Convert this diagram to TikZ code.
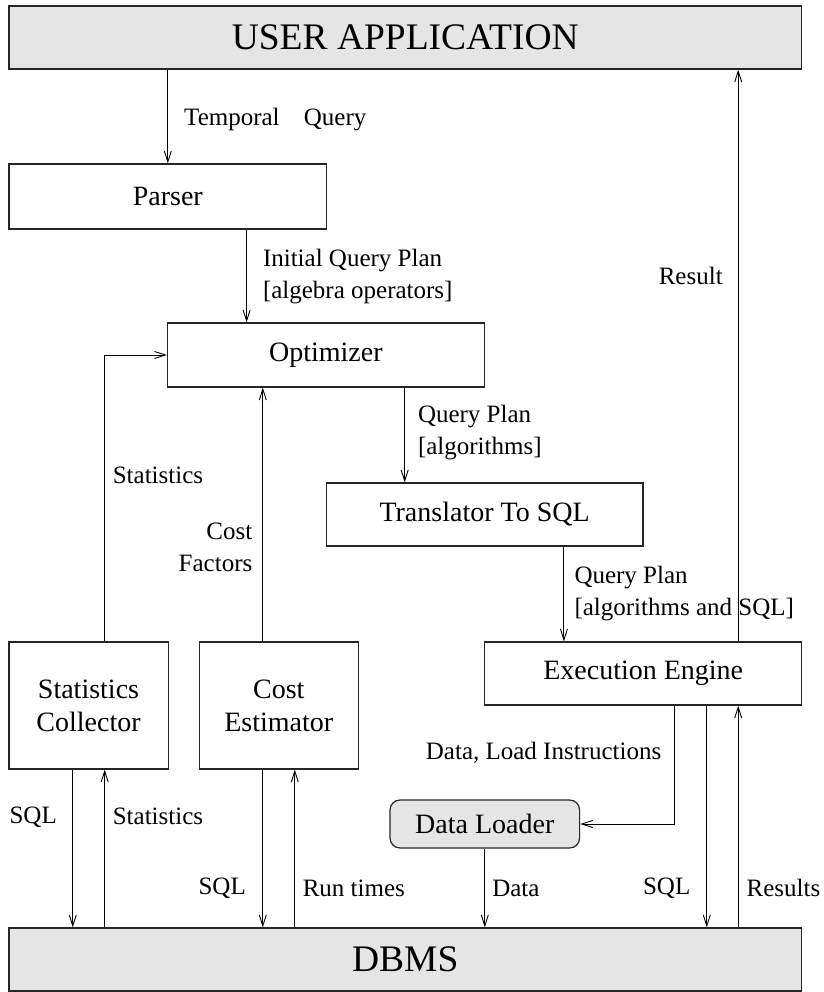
\documentclass[tikz,border=0pt]{standalone}
\usepackage{fontspec}
\setmainfont{Liberation Serif}
\usetikzlibrary{arrows.meta}
\begin{document}
\begin{tikzpicture}[x=1pt,y=-1pt,
  box/.style={draw=black!85, line width=1.2pt, rectangle, inner sep=0pt, align=center, font=\fontsize{28}{33}\selectfont},
  gbox/.style={box, fill=black!10, font=\fontsize{37.5}{44}\selectfont},
  lbl/.style={inner sep=0pt, font=\fontsize{25}{32}\selectfont},
  arr/.style={line width=0.9pt, -{Straight Barb[length=11pt,width=7pt]}}
]
\useasboundingbox (0,0) rectangle (823,992);

% boxes
\node[gbox, minimum width=792.7, minimum height=63] (ua) at (405.25,37.5) {USER APPLICATION};
\node[box, minimum width=317.8, minimum height=65] (parser) at (167.8,196.5) {Parser};
\node[box, minimum width=316.8, minimum height=64] (opt) at (325.9,355) {Optimizer};
\node[box, minimum width=316.8, minimum height=63] (trans) at (484.6,514.5) {Translator To SQL};
\node[box, minimum width=316.8, minimum height=63] (exec) at (643.2,673.5) {Execution Engine};
\node[box, minimum width=159.2, minimum height=127] (coll) at (88.5,705.5) {Statistics\\Collector};
\node[box, minimum width=158.6, minimum height=127] (est) at (278.8,705.5) {Cost\\Estimator};
\node[box, fill=black!10, rounded corners=10pt, minimum width=189.6, minimum height=48] (dl) at (484.8,824) {Data Loader};
\node[gbox, minimum width=792.7, minimum height=63] (dbms) at (405.25,959.5) {DBMS};

% helper x positions
\coordinate (xA) at (246.6,0);
\coordinate (xB) at (404.7,0);
\coordinate (xC) at (563.9,0);
\coordinate (xR) at (738.2,0);
\coordinate (xS) at (104.7,0);
\coordinate (xE) at (262.8,0);
\coordinate (xF) at (72.8,0);
\coordinate (xG) at (294.8,0);
\coordinate (xH) at (674.9,0);
\coordinate (xI) at (706.8,0);

% connectors
\draw[arr] (ua.south -| parser.north) -- (parser.north);
\draw[arr] (parser.south -| xA) -- (opt.north -| xA);
\draw[arr] (opt.south -| xB) -- (trans.north -| xB);
\draw[arr] (trans.south -| xC) -- (exec.north -| xC);
\draw[arr] (exec.north -| xR) -- (ua.south -| xR);
\draw[arr] (coll.north -| xS) |- (opt.west);
\draw[arr] (est.north -| xE) -- (opt.south -| xE);
\draw[arr] (coll.south -| xF) -- (dbms.north -| xF);
\draw[arr] (dbms.north -| xS) -- (coll.south -| xS);
\draw[arr] (est.south -| xE) -- (dbms.north -| xE);
\draw[arr] (dbms.north -| xG) -- (est.south -| xG);
\draw[arr] (exec.south -| xH) |- (dl.east);
\draw[arr] (dl.south) -- (dbms.north -| dl.south);
\draw[arr] (exec.south -| xI) -- (dbms.north -| xI);
\draw[arr] (dbms.north -| xR) -- (exec.south -| xR);

% labels
\node[lbl, anchor=base west] (l1) at (184,126) {Temporal\hspace{18pt} Query};
\node[lbl, anchor=west, align=left] (l2) at (262.8,277) {Initial Query Plan\\{[algebra operators]}};
\node[lbl, anchor=west] (l3) at (658.6,276) {Result};
\node[lbl, anchor=west, align=left] (l4) at (417.8,433) {Query Plan\\{[algorithms]}};
\node[lbl, anchor=west] (l5) at (112.6,475) {Statistics};
\node[lbl, anchor=east, align=right] (l6) at (252.5,547) {Cost\\Factors};
\node[lbl, anchor=west, align=left] (l7) at (574.3,594) {Query Plan\\{[algorithms and SQL]}};
\node[lbl, anchor=west] (l8) at (425.7,753) {Data, Load Instructions};
\node[lbl, anchor=west] (l9) at (9.4,817) {SQL};
\node[lbl, anchor=west] (l10) at (112.6,816) {Statistics};
\node[lbl, anchor=east] (l11) at (246,888) {SQL};
\node[lbl, anchor=west] (l12) at (302.6,888) {Run times};
\node[lbl, anchor=west] (l13) at (492.1,888) {Data};
\node[lbl, anchor=east] (l14) at (690.5,888) {SQL};
\node[lbl, anchor=west] (l15) at (746.5,888) {Results};
\end{tikzpicture}
\end{document}
